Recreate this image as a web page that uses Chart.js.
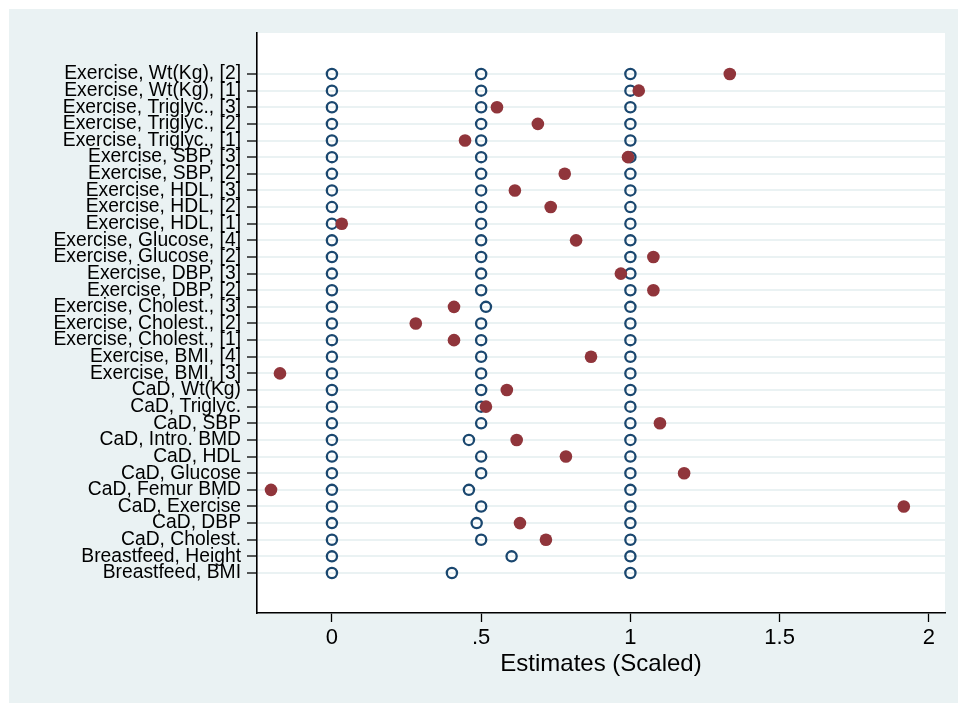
<!DOCTYPE html>
<html>
<head>
<meta charset="utf-8">
<script src="https://cdn.jsdelivr.net/npm/chart.js@4.4.1/dist/chart.umd.min.js"></script>
<style>
html,body{margin:0;padding:0;background:#ffffff;}
#wrap{position:absolute;left:0;top:0;width:958px;height:703px;}
</style>
</head>
<body>
<div id="wrap"><canvas id="c" width="958" height="703"></canvas></div>
<script>
const categories = [
  "Exercise, Wt(Kg), [2]", "Exercise, Wt(Kg), [1]", "Exercise, Triglyc., [3]", "Exercise, Triglyc., [2]",
  "Exercise, Triglyc., [1]", "Exercise, SBP, [3]", "Exercise, SBP, [2]", "Exercise, HDL, [3]",
  "Exercise, HDL, [2]", "Exercise, HDL, [1]", "Exercise, Glucose, [4]", "Exercise, Glucose, [2]",
  "Exercise, DBP, [3]", "Exercise, DBP, [2]", "Exercise, Cholest., [3]", "Exercise, Cholest., [2]",
  "Exercise, Cholest., [1]", "Exercise, BMI, [4]", "Exercise, BMI, [3]", "CaD, Wt(Kg)",
  "CaD, Triglyc.", "CaD, SBP", "CaD, Intro. BMD", "CaD, HDL", "CaD, Glucose", "CaD, Femur BMD",
  "CaD, Exercise", "CaD, DBP", "CaD, Cholest.", "Breastfeed, Height", "Breastfeed, BMI"
];
const estimates = [1.333, 1.028, 0.553, 0.690, 0.446, 0.992, 0.780, 0.613, 0.733, 0.033,
  0.818, 1.077, 0.968, 1.077, 0.409, 0.281, 0.409, 0.868, -0.174, 0.586,
  0.516, 1.099, 0.619, 0.784, 1.180, -0.204, 1.916, 0.630, 0.717, null, null];
const lowRef = [0,0,0,0,0,0,0,0,0,0,0,0,0,0,0,0,0,0,0,0,0,0,0,0,0,0,0,0,0,0,0];
const midRef = [0.5,0.5,0.5,0.5,0.5,0.5,0.5,0.5,0.5,0.5,0.5,0.5,0.5,0.5,0.516,0.5,
  0.5,0.5,0.5,0.5,0.5,0.5,0.459,0.5,0.5,0.459,0.5,0.485,0.5,0.602,0.402];
const highRef = [1,1,1,1,1,1,1,1,1,1,1,1,1,1,1,1,1,1,1,1,1,1,1,1,1,1,1,1,1,1,1];
const xTicks = [0, 0.5, 1, 1.5, 2];
const xTickLabels = ["0", ".5", "1", "1.5", "2"];
const xTitle = "Estimates (Scaled)";

const BLUE = "#1A476F", RED = "#90353B", BG = "#EAF2F3";

function pts(arr){ const out=[]; arr.forEach((v,i)=>{ if(v!==null) out.push({x:v,y:i}); }); return out; }
const refPoints = [].concat(pts(lowRef), pts(midRef), pts(highRef));

const bgPlugin = {
  id:'bg',
  beforeDraw(chart){
    const ctx = chart.ctx, a = chart.chartArea;
    ctx.save();
    ctx.fillStyle = "#ffffff"; ctx.fillRect(0,0,chart.width,chart.height);
    ctx.fillStyle = BG; ctx.fillRect(9,9,chart.width-9,chart.height-9);
    ctx.fillStyle = "#ffffff"; ctx.fillRect(a.left,a.top,a.right-a.left,a.bottom-a.top);
    ctx.restore();
  }
};

new Chart(document.getElementById('c'), {
  type:'scatter',
  data:{ datasets:[
    { label:'Estimate', data:pts(estimates), pointRadius:6.3, pointHoverRadius:6.3,
      backgroundColor:RED, borderColor:RED, borderWidth:0, pointStyle:'circle' },
    { label:'Reference', data:refPoints, pointRadius:5.1, pointHoverRadius:5.1,
      backgroundColor:'rgba(255,255,255,0)', borderColor:BLUE, borderWidth:2.3, pointStyle:'circle' }
  ]},
  options:{
    responsive:false, animation:false, devicePixelRatio:1,
    layout:{ padding:{ left:0, right:13, top:33, bottom:0 } },
    plugins:{ legend:{display:false}, tooltip:{enabled:false}, title:{display:false} },
    scales:{
      x:{ type:'linear', min:-0.251, max:2.054,
        afterBuildTicks(s){ s.ticks = xTicks.map(v=>({value:v})); },
        afterFit(s){ s.height = 90; },
        ticks:{ autoSkip:false, maxRotation:0, color:'#000', padding:3,
          font:{ family:'"Liberation Sans", Arial, sans-serif', size:22 },
          callback(v){ const i = xTicks.indexOf(v); return i>=0 ? xTickLabels[i] : ''; } },
        grid:{ drawOnChartArea:false, drawTicks:true, tickLength:9, tickColor:'#000', tickWidth:1.3 },
        border:{ display:true, color:'#000', width:1.6 },
        title:{ display:true, text:xTitle, color:'#000',
          font:{ family:'"Liberation Sans", Arial, sans-serif', size:24 }, padding:{ top:0, bottom:24 } }
      },
      y:{ type:'linear', reverse:true, min:-2.465, max:32.405,
        afterBuildTicks(s){ s.ticks = categories.map((c,i)=>({value:i})); },
        afterFit(s){ s.width = 257; },
        ticks:{ autoSkip:false, color:'#000', padding:6,
          font:{ family:'"Liberation Sans", Arial, sans-serif', size:19.3 }, 
          callback(v){ return categories[v] !== undefined ? categories[v] : ''; } },
        grid:{ drawOnChartArea:true, color:BG, lineWidth:2, drawTicks:true, tickLength:10, tickColor:'#000', tickWidth:1.3 },
        border:{ display:true, color:'#000', width:1.6 }
      }
    }
  },
  plugins:[bgPlugin]
});
</script>
</body>
</html>
